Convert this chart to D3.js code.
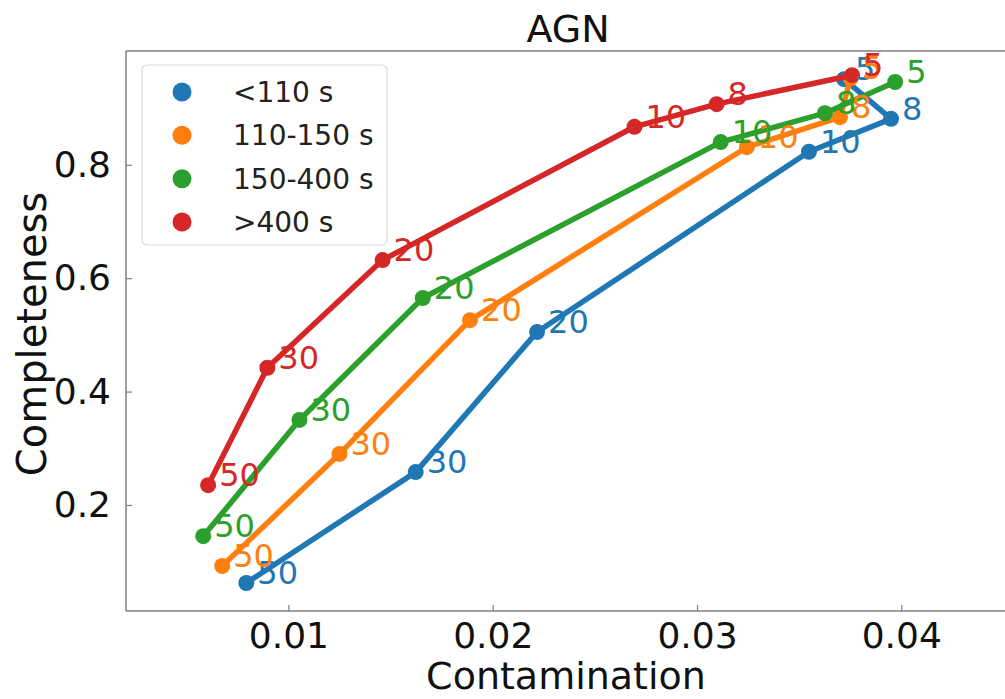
<!DOCTYPE html>
<html>
<head>
<meta charset="utf-8">
<script src="https://cdn.jsdelivr.net/npm/d3@7"></script>
<style>
  html, body { margin: 0; padding: 0; background: #fff; }
  svg { display: block; font-family: "DejaVu Sans", sans-serif; }
</style>
</head>
<body>
<svg id="chart" width="1005" height="699"></svg>
<script>
// ---- data ----
const seriesNames = ["<110 s", "110-150 s", "150-400 s", ">400 s"];
const colors = ["#1f77b4", "#ff7f0e", "#2ca02c", "#d62728"];
const thresholds = ["5", "8", "10", "20", "30", "50"];
const contamination = [
  [0.0372, 0.0395, 0.03548, 0.02217, 0.01623, 0.00794],
  [0.03752, 0.0370, 0.03244, 0.01889, 0.0125, 0.00676],
  [0.0397, 0.03626, 0.03116, 0.01658, 0.01054, 0.00583],
  [0.03759, 0.03096, 0.02694, 0.01461, 0.00897, 0.00607]
];
const completeness = [
  [0.951, 0.881, 0.823, 0.505, 0.258, 0.0624],
  [0.953, 0.884, 0.831, 0.526, 0.290, 0.0924],
  [0.946, 0.891, 0.840, 0.565, 0.350, 0.145],
  [0.958, 0.907, 0.867, 0.632, 0.442, 0.235]
];
const xTicks = [0.01, 0.02, 0.03, 0.04];
const yTicks = [0.2, 0.4, 0.6, 0.8];
const title = "AGN";
const xLabel = "Contamination";
const yLabel = "Completeness";

// ---- layout ----
const mLeft = 126, mTop = 51, mBottom = 611, mRight = 1030;
const svg = d3.select("#chart");
const x = d3.scaleLinear().domain([0.00205, 0.0463]).range([mLeft, mRight]);
const y = d3.scaleLinear().domain([0.013, 1.0007]).range([mBottom, mTop]);

const spineColor = "#7f7f7f";

// spines
svg.append("line").attr("x1", mLeft).attr("x2", mRight).attr("y1", mTop).attr("y2", mTop)
  .attr("stroke", spineColor).attr("stroke-width", 1.5);
svg.append("line").attr("x1", mLeft).attr("x2", mRight).attr("y1", mBottom).attr("y2", mBottom)
  .attr("stroke", spineColor).attr("stroke-width", 1.5);
svg.append("line").attr("x1", mLeft).attr("x2", mLeft).attr("y1", mTop).attr("y2", mBottom)
  .attr("stroke", spineColor).attr("stroke-width", 1.5);

// axes
const xAxis = d3.axisBottom(x).tickValues(xTicks).tickFormat(d3.format(".2f")).tickSizeInner(-6).tickSizeOuter(0).tickPadding(11);
const gx = svg.append("g").attr("transform", `translate(0,${mBottom})`).call(xAxis);
gx.select(".domain").remove();
gx.selectAll(".tick line").attr("stroke", spineColor).attr("stroke-width", 1.2);
gx.selectAll(".tick text").attr("font-size", 36).attr("fill", "#111").attr("font-family", "DejaVu Sans");

const yAxis = d3.axisLeft(y).tickValues(yTicks).tickFormat(d3.format(".1f")).tickSizeInner(-6).tickSizeOuter(0).tickPadding(15);
const gy = svg.append("g").attr("transform", `translate(${mLeft},0)`).call(yAxis);
gy.select(".domain").remove();
gy.selectAll(".tick line").attr("stroke", spineColor).attr("stroke-width", 1.2);
gy.selectAll(".tick text").attr("font-size", 36).attr("fill", "#111").attr("font-family", "DejaVu Sans");

// title and labels
svg.append("text").attr("x", 568).attr("y", 42).attr("text-anchor", "middle")
  .attr("font-size", 38).attr("fill", "#111").text(title);
svg.append("text").attr("x", 566).attr("y", 689).attr("text-anchor", "middle")
  .attr("font-size", 38).attr("fill", "#111").text(xLabel);
svg.append("text").attr("transform", "translate(46,334) rotate(-90)").attr("text-anchor", "middle")
  .attr("font-size", 40).attr("fill", "#111").text(yLabel);

// series
const line = d3.line().x(d => x(d[0])).y(d => y(d[1]));
const series = seriesNames.map((name, i) => ({
  name, color: colors[i],
  pts: contamination[i].map((c, j) => [c, completeness[i][j], thresholds[j]])
}));

series.forEach(s => {
  svg.append("path").datum(s.pts).attr("d", line)
    .attr("fill", "none").attr("stroke", s.color).attr("stroke-width", 5.5)
    .attr("stroke-linejoin", "round").attr("stroke-linecap", "round");
  svg.selectAll(null).data(s.pts).enter().append("circle")
    .attr("cx", d => x(d[0])).attr("cy", d => y(d[1])).attr("r", 8).attr("fill", s.color);
});
series.forEach(s => {
  svg.selectAll(null).data(s.pts).enter().append("text")
    .attr("x", d => x(d[0]) + 11).attr("y", d => y(d[1]) + 1)
    .attr("font-size", 32).attr("fill", s.color).text(d => d[2]);
});

// legend
const lg = svg.append("g");
lg.append("rect").attr("x", 142).attr("y", 65).attr("width", 245).attr("height", 180)
  .attr("rx", 5).attr("fill", "#fff").attr("fill-opacity", 0.8)
  .attr("stroke", "#dcdcdc").attr("stroke-width", 1.2);
const legendY = d3.scalePoint().domain(seriesNames).range([92, 222]);
seriesNames.forEach((name, i) => {
  lg.append("circle").attr("cx", 182).attr("cy", legendY(name)).attr("r", 9.5).attr("fill", colors[i]);
  lg.append("text").attr("x", 233).attr("y", legendY(name) + 10)
    .attr("font-size", 28).attr("fill", "#222").text(name);
});
</script>
</body>
</html>
